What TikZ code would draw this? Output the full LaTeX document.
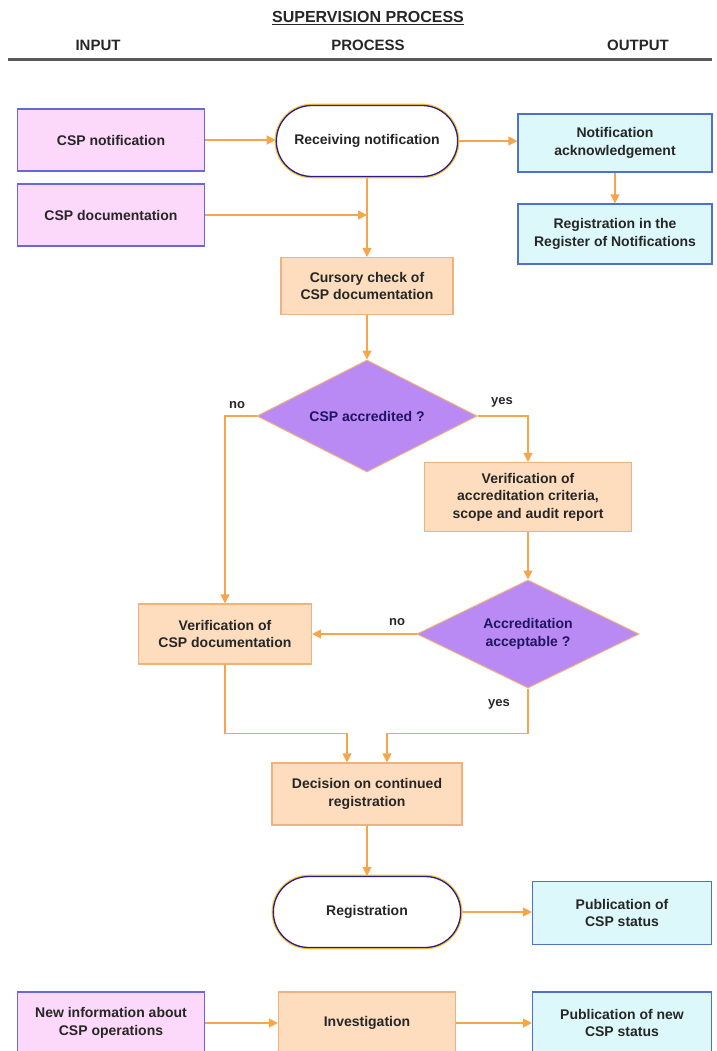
\documentclass[tikz,border=0pt]{standalone}
\usepackage{fontspec}
\setmainfont{Liberation Sans}
\usetikzlibrary{positioning}
\usetikzlibrary{calc}
\usetikzlibrary{arrows.meta}
\usetikzlibrary{shapes.misc,shapes.geometric}

\definecolor{inpink}{HTML}{FCD9FA}
\definecolor{inline}{HTML}{6868D8}
\definecolor{procfill}{HTML}{FDDDBE}
\definecolor{procline}{HTML}{F0B27A}
\definecolor{outfill}{HTML}{DDF8FB}
\definecolor{outline}{HTML}{5070D0}
\definecolor{diafill}{HTML}{B98AF3}
\definecolor{flowc}{HTML}{F5A54C}
\definecolor{navyline}{HTML}{2C1C8A}

\tikzset{
        every node/.style={align=center,font=\fontsize{14}{17.5}\selectfont\bfseries,text=black!85},
        inbox/.style={rectangle,draw=inline,line width=1.2pt,fill=inpink,minimum width=187pt,minimum height=62pt},
        procbox/.style={rectangle,draw=procline,line width=1.2pt,fill=procfill},
        outbox/.style={rectangle,draw=outline,line width=1.2pt,fill=outfill,minimum width=194pt},
        decision/.style={diamond,aspect=2,draw=procline,line width=1pt,fill=diafill,inner sep=0pt,text=navyline!70!black},
        terminal/.style={rounded rectangle,draw=navyline,line width=1.3pt,fill=white,
                         preaction={draw=flowc!60!yellow,line width=3.6pt}},
        flow/.style={draw=flowc,line width=1.3pt,-{Triangle[length=9pt,width=9pt]}},
        label/.style={font=\fontsize{13}{15}\selectfont\bfseries},
        heading/.style={font=\fontsize{15}{18}\selectfont\bfseries},
        }

\begin{document}
\begin{tikzpicture}[x=1pt,y=-1pt]
			\useasboundingbox (0,0) rectangle (716,1051);
			\clip (0,0) rectangle (716,1051);

			% headings.....................
			\node [font=\fontsize{16}{19}\selectfont\bfseries] (title) at (368,18) {\underline{SUPERVISION PROCESS}};
			\node [heading] (hin) at (98,45) {INPUT};
			\node [heading] (hproc) at (368,45) {PROCESS};
			\node [heading] (hout) at (638,45) {OUTPUT};
			\draw [line width=3pt,black!65] (8,60) -- (712,60);

			% inputs.......................
			\node [inbox] (csp) at (111,140) {CSP notification};
			\node [inbox] (cspdoc) at (111,215) {CSP documentation};
			\node [inbox] (newinfo) at (111,1023) {New information about\\CSP operations};

			% process......................
			\node [terminal,minimum width=188pt,minimum height=71pt] (recv) at (367,141) {Receiving notification};
			\node [procbox,minimum width=172pt,minimum height=57pt] (cursory) at (367,286) {Cursory check of\\CSP documentation};
			\node [decision,minimum width=220pt,minimum height=112pt] (accr) at (367,416) {CSP accredited ?};
			\node [procbox,minimum width=207pt,minimum height=69pt] (veracc) at (528,497) {Verification of\\accreditation criteria,\\scope and audit report};
			\node [decision,minimum width=222pt,minimum height=108pt] (accept) at (528,634) {Accreditation\\acceptable ?};
			\node [procbox,minimum width=173pt,minimum height=60pt] (vercsp) at (225,634) {Verification of\\CSP documentation};
			\node [procbox,minimum width=190pt,minimum height=62pt] (decide) at (367,794) {Decision on continued\\registration};
			\node [terminal,minimum width=194pt,minimum height=71pt] (regist) at (367,912) {Registration};
			\node [procbox,minimum width=177pt,minimum height=62pt] (invest) at (367,1023) {Investigation};

			% outputs......................
			\node [outbox,minimum height=58pt] (ack) at (615,143) {Notification\\acknowledgement};
			\node [outbox,minimum height=60pt] (regnot) at (615,234) {Registration in the\\Register of Notifications};
			\node [outbox,minimum width=179pt,minimum height=63pt] (pubstat) at (622,913) {Publication of\\CSP status};
			\node [outbox,minimum width=179pt,minimum height=62pt] (pubnew) at (622,1023) {Publication of new\\CSP status};

			% top part arrows..............
			\draw [flow] (csp.east) -- (csp.east -| recv.west);
			\draw [flow] (recv.east) -- (recv.east -| ack.west);
			\draw [flow] (ack.south) -- (regnot.north);
			\draw [flow] (recv.south) -- (cursory.north);
			\draw [flow] (cspdoc.east) -- (cspdoc.east -| recv.south);
			\draw [flow] (cursory.south) -- (accr.north);

			% decisions....................
			\draw [flow] (accr.west) -| (vercsp.north);
			\node [label] (no1) at (237,405) {no};
			\draw [flow] (accr.east) -| (veracc.north);
			\node [label] (yes1) at (502,402) {yes};
			\draw [flow] (veracc.south) -- (accept.north);
			\draw [flow] (accept.west) -- (vercsp.east);
			\node [label] (no2) at (397,622) {no};

			% joining into decision........
			\coordinate (inl) at ($(decide.north)+(-20,0)$);
			\coordinate (inr) at ($(decide.north)+(20,0)$);
			\draw [flow] (vercsp.south) |- ($(inl)+(0,-29)$) -- (inl);
			\draw [flow] (accept.south) |- ($(inr)+(0,-29)$) -- (inr);
			\node [label] (yes2) at (499,704) {yes};

			% bottom part arrows...........
			\draw [flow] (decide.south) -- (regist.north);
			\draw [flow] (regist.east) -- (regist.east -| pubstat.west);
			\draw [flow] (newinfo.east) -- (invest.west);
			\draw [flow] (invest.east) -- (pubnew.west);
		\end{tikzpicture}
\end{document}
